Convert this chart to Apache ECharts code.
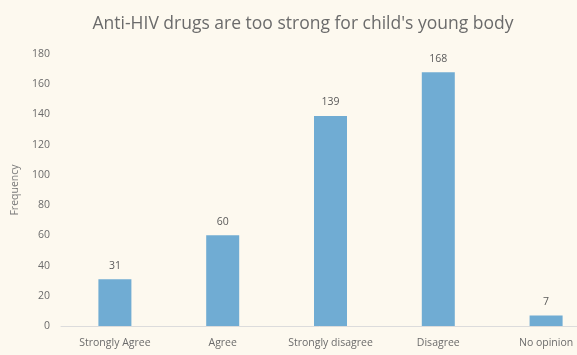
<!DOCTYPE html>
<html><head><meta charset="utf-8">
<script src="https://cdn.jsdelivr.net/npm/echarts@6/dist/echarts.min.js"></script>
<style>html,body{margin:0;padding:0;background:#fdf9ef;}#c{width:577px;height:355px;}</style>
</head><body><div id="c"></div>
<script>
const categories = ['Strongly Agree', 'Agree', 'Strongly disagree', 'Disagree', 'No opinion'];
const values = [31, 60, 139, 168, 7];
const yTicks = [0, 20, 40, 60, 80, 100, 120, 140, 160, 180];

const chart = echarts.init(document.getElementById('c'));
chart.setOption({
  backgroundColor: '#fdf9ef',
  title: {
    text: "Anti-HIV drugs are too strong for child's young body",
    left: 298, top: 10, textAlign: 'center',
    textStyle: { fontFamily: 'Open Sans', fontSize: 17.5, fontWeight: 'normal', color: '#6b6b6b' }
  },
  grid: { left: 61, width: 539, top: 54, bottom: 29, outerBoundsMode: 'none', containLabel: false },
  xAxis: {
    type: 'category', data: categories,
    axisLine: { lineStyle: { color: '#dcdcdc' } },
    axisTick: { show: false },
    axisLabel: { interval: 0, hideOverlap: false, fontFamily: 'Open Sans', fontSize: 10.5, color: '#6b6b6b', margin: 12 }
  },
  yAxis: {
    type: 'value', min: yTicks[0], max: yTicks[yTicks.length - 1], interval: 20,
    name: 'Frequency', nameLocation: 'middle', nameGap: 40,
    nameTextStyle: { fontFamily: 'Open Sans', fontSize: 10.5, color: '#7a7a7a' },
    axisLine: { show: false }, axisTick: { show: false },
    splitLine: { show: false },
    axisLabel: { fontFamily: 'Open Sans', fontSize: 10.5, color: '#6b6b6b', margin: 11 }
  },
  series: [{
    type: 'bar', data: values, barWidth: 33,
    itemStyle: { color: '#70acd3' },
    label: { show: true, position: 'top', fontFamily: 'Open Sans', fontSize: 10.5, color: '#5a5a5a', distance: 8 }
  }]
});
</script></body></html>
